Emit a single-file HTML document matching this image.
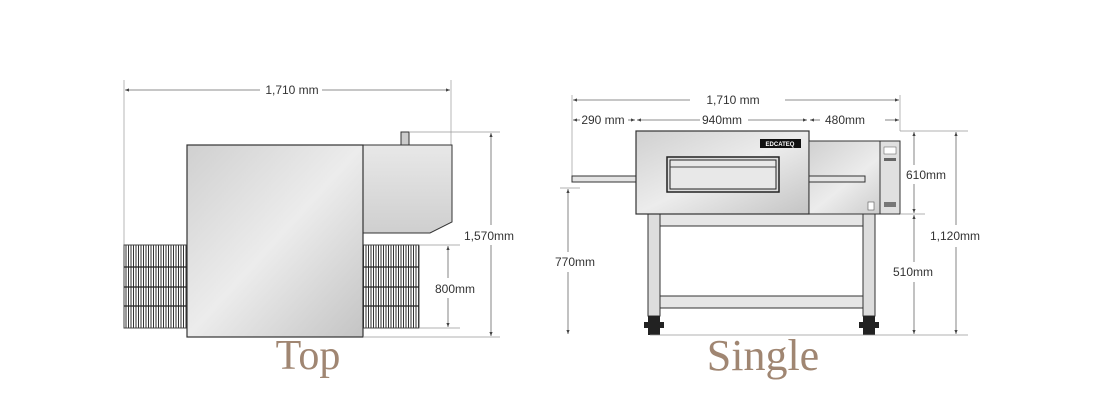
<!DOCTYPE html>
<html><head><style>
body{margin:0;background:#fff;}
svg{display:block;font-family:"Liberation Sans",sans-serif;}
.d{stroke:#666;stroke-width:0.8;fill:none}
.e{stroke:#999;stroke-width:0.7;fill:none}
.t{font-size:12px;fill:#333;text-anchor:middle}
.big{font-family:"Liberation Serif",serif;fill:#a08672;text-anchor:middle}
</style></head><body>
<svg width="1100" height="415" viewBox="0 0 1100 415">
<defs>
<linearGradient id="g" x1="0" y1="0" x2="1" y2="1">
<stop offset="0" stop-color="#d0d0d0"/><stop offset="0.5" stop-color="#ececec"/><stop offset="1" stop-color="#c4c4c4"/></linearGradient>
<linearGradient id="g2" x1="0" y1="0" x2="0" y2="1">
<stop offset="0" stop-color="#e8e8e8"/><stop offset="1" stop-color="#cfcfcf"/></linearGradient>
<pattern id="grill" width="2.5" height="10" patternUnits="userSpaceOnUse">
<rect width="2.5" height="10" fill="#fff"/><line x1="1" y1="0" x2="1" y2="10" stroke="#333" stroke-width="1"/></pattern>
<marker id="a" markerWidth="6" markerHeight="6" refX="5" refY="3" orient="auto"><path d="M0,1 L5,3 L0,5z" fill="#444"/></marker>
</defs>

<!-- TOP VIEW -->
<line class="e" x1="124" y1="80" x2="124" y2="245"/>
<line class="e" x1="451" y1="80" x2="451" y2="145"/>
<line class="d" x1="260" y1="90" x2="125" y2="90" marker-end="url(#a)"/>
<line class="d" x1="322" y1="90" x2="450" y2="90" marker-end="url(#a)"/>
<text class="t" x="292" y="94">1,710 mm</text>

<rect x="124" y="245" width="63" height="83" fill="url(#grill)" stroke="#444"/>
<rect x="363" y="245" width="56" height="83" fill="url(#grill)" stroke="#444"/>
<g stroke="#222" stroke-width="1.3">
<line x1="124" y1="267" x2="187" y2="267"/><line x1="124" y1="287" x2="187" y2="287"/><line x1="124" y1="306" x2="187" y2="306"/>
<line x1="363" y1="267" x2="419" y2="267"/><line x1="363" y1="287" x2="419" y2="287"/><line x1="363" y1="306" x2="419" y2="306"/>
</g>
<rect x="401" y="132" width="8" height="13" fill="#ccc" stroke="#333"/>
<path d="M363,145 L452,145 L452,222 L430,233 L363,233z" fill="url(#g2)" stroke="#333"/>
<rect x="187" y="145" width="176" height="192" fill="url(#g)" stroke="#333" stroke-width="1.2"/>

<line class="e" x1="409" y1="132" x2="500" y2="132"/>
<line class="e" x1="363" y1="337" x2="500" y2="337"/>
<line class="e" x1="419" y1="245" x2="460" y2="245"/>
<line class="e" x1="419" y1="328" x2="460" y2="328"/>
<line class="d" x1="448" y1="278" x2="448" y2="246" marker-end="url(#a)"/>
<line class="d" x1="448" y1="298" x2="448" y2="327" marker-end="url(#a)"/>
<rect x="432" y="280" width="46" height="16" fill="#fff"/>
<text class="t" x="455" y="293">800mm</text>
<line class="d" x1="491" y1="225" x2="491" y2="133" marker-end="url(#a)"/>
<line class="d" x1="491" y1="245" x2="491" y2="336" marker-end="url(#a)"/>
<text class="t" x="489" y="240">1,570mm</text>
<text class="big" x="308" y="369" font-size="42">Top</text>

<!-- SINGLE VIEW -->
<line class="e" x1="572" y1="95" x2="572" y2="178"/>
<line class="e" x1="900" y1="95" x2="900" y2="131"/>
<line class="d" x1="690" y1="100" x2="573" y2="100" marker-end="url(#a)"/>
<line class="d" x1="785" y1="100" x2="899" y2="100" marker-end="url(#a)"/>
<text class="t" x="733" y="104">1,710 mm</text>
<line class="d" x1="580" y1="120" x2="573" y2="120" marker-end="url(#a)"/>
<text class="t" x="603" y="124">290 mm</text>
<line class="d" x1="628" y1="120" x2="635" y2="120" marker-end="url(#a)"/>
<line class="d" x1="700" y1="120" x2="637" y2="120" marker-end="url(#a)"/>
<text class="t" x="722" y="124">940mm</text>
<line class="d" x1="748" y1="120" x2="807" y2="120" marker-end="url(#a)"/>
<line class="d" x1="820" y1="120" x2="810" y2="120" marker-end="url(#a)"/>
<text class="t" x="845" y="124">480mm</text>
<line class="d" x1="885" y1="120" x2="899" y2="120" marker-end="url(#a)"/>

<rect x="572" y="176" width="64" height="6" fill="#e4e4e4" stroke="#333"/>
<!-- legs -->
<rect x="648" y="214" width="12" height="102" fill="#ddd" stroke="#333"/>
<rect x="863" y="214" width="12" height="102" fill="#ddd" stroke="#333"/>
<rect x="660" y="214" width="203" height="12" fill="#e6e6e6" stroke="#333"/>
<rect x="660" y="296" width="203" height="12" fill="#e6e6e6" stroke="#333"/>
<g fill="#222">
<rect x="648" y="316" width="12" height="19"/><rect x="644" y="322" width="20" height="6"/>
<rect x="863" y="316" width="12" height="19"/><rect x="859" y="322" width="20" height="6"/>
</g>
<rect x="636" y="131" width="173" height="83" fill="url(#g)" stroke="#333" stroke-width="1.2"/>
<rect x="809" y="141" width="91" height="73" fill="url(#g)" stroke="#333"/>
<rect x="809" y="176" width="56" height="6" fill="#e4e4e4" stroke="#333"/>
<rect x="880" y="141" width="20" height="73" fill="#e0e0e0" stroke="#333"/>
<rect x="884" y="147" width="12" height="7" fill="#fff" stroke="#555" stroke-width="0.5"/>
<rect x="884" y="158" width="12" height="3" fill="#666"/>
<rect x="884" y="202" width="12" height="5" fill="#777"/>
<rect x="868" y="202" width="6" height="8" fill="#fff" stroke="#555" stroke-width="0.6"/>
<rect x="760" y="139" width="41" height="9" fill="#111"/>
<text x="780" y="146" font-size="6" fill="#fff" text-anchor="middle" font-weight="bold">EDCATEQ</text>
<rect x="667" y="157" width="112" height="35" fill="#ddd" stroke="#222" stroke-width="1.5"/>
<rect x="670" y="160" width="106" height="29" fill="#e8e8e8" stroke="#222"/>
<line x1="670" y1="167" x2="776" y2="167" stroke="#444"/>

<line class="e" x1="900" y1="131" x2="968" y2="131"/>
<line class="e" x1="900" y1="214" x2="925" y2="214"/>
<line class="e" x1="650" y1="335" x2="968" y2="335"/>
<line class="e" x1="560" y1="188" x2="580" y2="188"/>
<line class="d" x1="914" y1="165" x2="914" y2="132" marker-end="url(#a)"/>
<line class="d" x1="914" y1="184" x2="914" y2="213" marker-end="url(#a)"/>
<text class="t" x="926" y="179">610mm</text>
<line class="d" x1="914" y1="262" x2="914" y2="215" marker-end="url(#a)"/>
<line class="d" x1="914" y1="282" x2="914" y2="334" marker-end="url(#a)"/>
<text class="t" x="913" y="276">510mm</text>
<line class="d" x1="956" y1="225" x2="956" y2="132" marker-end="url(#a)"/>
<line class="d" x1="956" y1="247" x2="956" y2="334" marker-end="url(#a)"/>
<text class="t" x="955" y="240">1,120mm</text>
<line class="d" x1="568" y1="252" x2="568" y2="189" marker-end="url(#a)"/>
<line class="d" x1="568" y1="272" x2="568" y2="334" marker-end="url(#a)"/>
<text class="t" x="575" y="266">770mm</text>
<text class="big" x="763" y="370" font-size="44">Single</text>
</svg>
</body></html>
